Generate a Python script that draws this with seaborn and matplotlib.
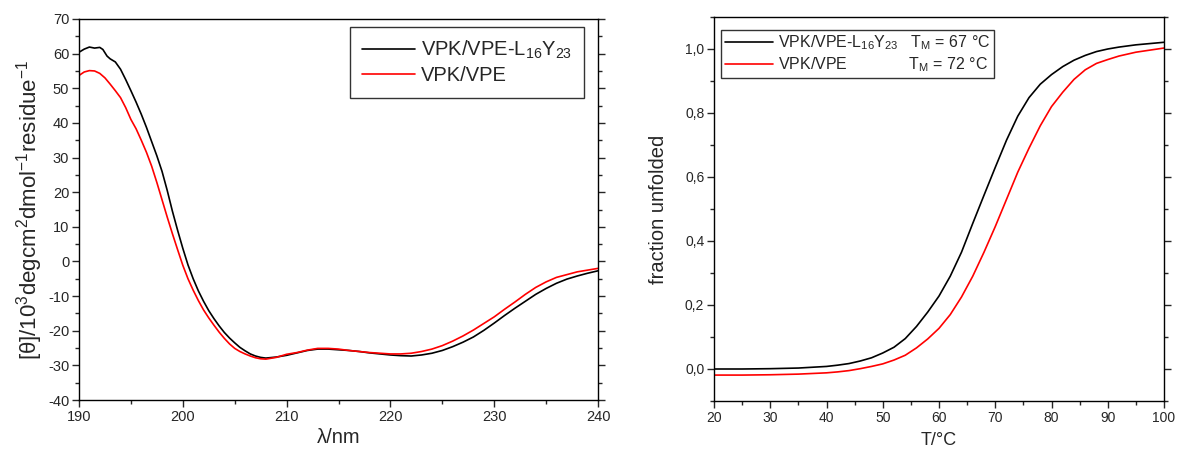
import numpy as np
import pandas as pd
import matplotlib
matplotlib.use("Agg")
import matplotlib.pyplot as plt
import seaborn as sns
from matplotlib.ticker import MultipleLocator, FuncFormatter

# ---------------- data ----------------
wl_black = [190, 190.5, 191, 191.5, 192, 192.3, 192.7, 193, 193.5, 194, 194.5, 195, 195.5, 196, 196.5,
            197, 197.5, 198, 198.5, 199, 199.5, 200, 200.5, 201, 201.5, 202, 202.5, 203, 203.5, 204,
            204.5, 205, 205.5, 206, 206.5, 207, 207.5, 208, 209, 210, 211, 212, 213, 214, 215, 216,
            217, 218, 219, 220, 221, 222, 223, 224, 225, 226, 227, 228, 229, 230, 231, 232,
            233, 234, 235, 236, 237, 238, 239, 240]
cd_black = [60.4, 61.3, 61.9, 61.6, 61.8, 61.2, 59.3, 58.5, 57.6, 55.5, 52.5, 49.3, 46.0, 42.5, 38.7,
            34.6, 30.5, 26.0, 20.5, 14.5, 9.0, 3.8, -1.0, -5.0, -8.5, -11.5, -14.2, -16.5, -18.6, -20.5,
            -22.1, -23.5, -24.8, -25.8, -26.7, -27.3, -27.7, -27.9, -27.6, -27.1, -26.4, -25.7, -25.3, -25.3, -25.5, -25.7,
            -26.0, -26.4, -26.7, -27.0, -27.2, -27.3, -27.0, -26.5, -25.7, -24.6, -23.3, -21.8, -19.9, -17.8, -15.6, -13.5,
            -11.5, -9.5, -7.8, -6.3, -5.1, -4.2, -3.4, -2.7]

wl_red = [190, 190.5, 191, 191.5, 192, 192.5, 193, 193.5, 194, 194.5, 195, 195.5, 196, 196.5, 197,
          197.5, 198, 198.5, 199, 199.5, 200, 200.5, 201, 201.5, 202, 202.5, 203, 203.5, 204, 204.5,
          205, 205.5, 206, 206.5, 207, 207.5, 208, 209, 210, 211, 212, 213, 214, 215, 216, 217, 218,
          219, 220, 221, 222, 223, 224, 225, 226, 227, 228, 229, 230, 231, 232, 233, 234, 235, 236,
          237, 238, 239, 240]
cd_red = [53.7, 54.7, 55.1, 55.0, 54.3, 53.0, 51.2, 49.3, 47.3, 44.4, 41.0, 38.3, 35.0, 31.5, 27.5,
          22.8, 17.8, 12.8, 8.0, 3.4, -1.1, -5.0, -8.3, -11.3, -14.0, -16.3, -18.4, -20.4, -22.2, -23.8,
          -25.1, -26.0, -26.7, -27.3, -27.8, -28.1, -28.2, -27.7, -26.8, -26.3, -25.6, -25.1, -25.1, -25.3, -25.7, -26.0, -26.3,
          -26.5, -26.7, -26.7, -26.5, -26.0, -25.3, -24.3, -23.0, -21.5, -19.8, -17.9, -16.0, -13.8, -11.7, -9.5, -7.5, -5.9, -4.6,
          -3.8, -3.0, -2.5, -2.0]

temp = [20, 25, 30, 35, 40, 42, 44, 46, 48, 50, 52, 54, 56, 58, 60, 62, 64, 66, 68, 70,
        72, 74, 76, 78, 80, 82, 84, 86, 88, 90, 92, 95, 100]
frac_black = [0.000, 0.000, 0.001, 0.003, 0.008, 0.012, 0.017, 0.025, 0.035, 0.050, 0.068, 0.095, 0.133, 0.178,
              0.228, 0.290, 0.365, 0.455, 0.543, 0.630, 0.715, 0.790, 0.848, 0.890, 0.920, 0.945, 0.965,
              0.980, 0.992, 1.000, 1.006, 1.013, 1.021]
frac_red = [-0.019, -0.019, -0.018, -0.016, -0.012, -0.009, -0.005, 0.001, 0.008, 0.016, 0.028, 0.043, 0.066,
            0.094, 0.127, 0.170, 0.225, 0.290, 0.365, 0.445, 0.530, 0.615, 0.690, 0.760, 0.820, 0.865,
            0.905, 0.935, 0.955, 0.967, 0.978, 0.990, 1.003]

label_a = "VPK/VPE-L$_{16}$Y$_{23}$"
label_b = "VPK/VPE"
tm_a = "T$_M$ = 67 °C"
tm_b = "T$_M$ = 72 °C"

# ---------------- style ----------------
sns.set_style("ticks")
plt.rcParams["font.family"] = ["Liberation Sans", "DejaVu Sans"]
plt.rcParams["mathtext.fontset"] = "custom"
plt.rcParams["mathtext.rm"] = "Liberation Sans"
plt.rcParams["mathtext.it"] = "Liberation Sans"
plt.rcParams["axes.unicode_minus"] = False
plt.rcParams["axes.linewidth"] = 1.0

fig = plt.figure(figsize=(11.77, 4.54), dpi=100)
W, H = 1177, 454
ax1 = fig.add_axes([79 / W, 1 - 400 / H, (598 - 79) / W, (400 - 19) / H])
ax2 = fig.add_axes([714 / W, 1 - 401 / H, (1164 - 714) / W, (401 - 17) / H])

df_cd = pd.concat([
    pd.DataFrame({"wl": wl_black, "cd": cd_black, "sample": label_a}),
    pd.DataFrame({"wl": wl_red, "cd": cd_red, "sample": label_b}),
])
df_m = pd.concat([
    pd.DataFrame({"T": temp, "f": frac_black, "sample": f"{label_a}   {tm_a}"}),
    pd.DataFrame({"T": temp, "f": frac_red, "sample": f"{label_b}" + " " * 14 + f"{tm_b}"}),
])

sns.lineplot(data=df_cd, x="wl", y="cd", hue="sample", palette=["black", "red"],
             ax=ax1, linewidth=1.2, sort=True)
sns.lineplot(data=df_m, x="T", y="f", hue="sample", palette=["black", "red"],
             ax=ax2, linewidth=1.2, sort=True)

def style_axes(ax, lsize):
    for s in ax.spines.values():
        s.set_visible(True)
        s.set_color("black")
        s.set_linewidth(1.0)
    ax.tick_params(which="major", direction="out", length=5, width=1, labelsize=lsize,
                   right=True, top=False, pad=2)
    ax.tick_params(which="minor", direction="out", length=3, width=1, right=True, top=False)

# left axes
ax1.set_xlim(190, 240)
ax1.set_ylim(-40, 70)
ax1.xaxis.set_major_locator(MultipleLocator(10))
ax1.xaxis.set_minor_locator(MultipleLocator(5))
ax1.yaxis.set_major_locator(MultipleLocator(10))
ax1.yaxis.set_minor_locator(MultipleLocator(5))
style_axes(ax1, 10.5)
ax1.set_xlabel("λ/nm", fontsize=14.5, labelpad=3)
ax1.set_ylabel("[θ]/10$^3$degcm$^2$dmol$^{-1}$residue$^{-1}$", fontsize=16, labelpad=2)
leg1 = ax1.legend(loc="upper right", bbox_to_anchor=((584 - 79) / 519, (400 - 27) / 381),
                  borderaxespad=0, fontsize=14.5, frameon=True,
                  fancybox=False, edgecolor="black", handlelength=2.6, handletextpad=0.3,
                  borderpad=0.6, labelspacing=0.25, title=None)
leg1.get_frame().set_linewidth(1.0)

# right axes
ax2.set_xlim(20, 100)
ax2.set_ylim(-0.1, 1.1)
ax2.xaxis.set_major_locator(MultipleLocator(10))
ax2.xaxis.set_minor_locator(MultipleLocator(5))
ax2.yaxis.set_major_locator(MultipleLocator(0.2))
ax2.yaxis.set_minor_locator(MultipleLocator(0.1))
ax2.yaxis.set_major_formatter(FuncFormatter(lambda v, p: f"{v:.1f}".replace(".", ",")))
style_axes(ax2, 10)
ax2.set_xlabel("T/°C", fontsize=13, labelpad=5)
ax2.set_ylabel("fraction unfolded", fontsize=14.5, labelpad=12)
leg2 = ax2.legend(loc="upper left", bbox_to_anchor=((721 - 714) / 450, (401 - 29.5) / 384),
                  borderaxespad=0, fontsize=11.5, frameon=True,
                  fancybox=False, edgecolor="black", handlelength=3.0, handletextpad=0.3,
                  borderpad=0.25, labelspacing=0.2, title=None)
leg2.get_frame().set_linewidth(1.0)

fig.savefig("out.png", dpi=100)
